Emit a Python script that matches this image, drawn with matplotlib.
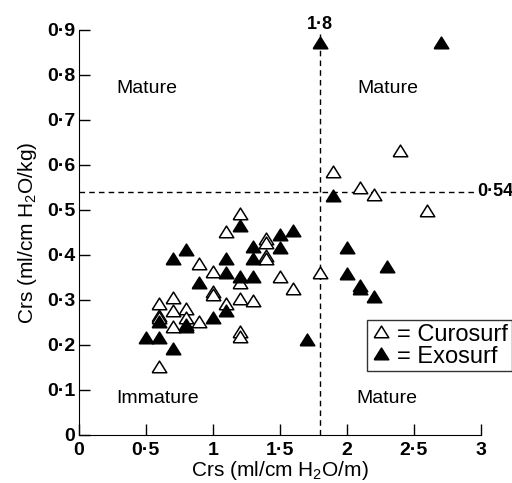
import matplotlib
matplotlib.use("Agg")
import matplotlib.pyplot as plt

plt.rcParams['font.family'] = ['Liberation Sans', 'DejaVu Sans']
plt.rcParams['mathtext.fontset'] = 'custom'
plt.rcParams['mathtext.rm'] = 'Liberation Sans'

# Curosurf (open triangles)
curo_x = [0.6, 0.6, 0.6, 0.6, 0.7, 0.7, 0.7, 0.8, 0.8, 0.9, 0.9, 1.0, 1.0, 1.0,
          1.1, 1.1, 1.2, 1.2, 1.2, 1.2, 1.2, 1.3, 1.4, 1.4, 1.4, 1.4, 1.5, 1.6,
          1.8, 1.9, 2.1, 2.2, 2.4, 2.6]
curo_y = [0.15, 0.29, 0.265, 0.26, 0.305, 0.275, 0.24, 0.28, 0.26, 0.25, 0.38, 0.363, 0.318, 0.31,
          0.45, 0.29, 0.49, 0.337, 0.302, 0.228, 0.217, 0.298, 0.435, 0.426, 0.398, 0.39, 0.352, 0.325,
          0.36, 0.585, 0.548, 0.533, 0.632, 0.498]

# Exosurf (filled triangles)
exo_x = [0.5, 0.6, 0.6, 0.7, 0.7, 0.8, 0.8, 0.8, 0.9, 1.0, 1.1, 1.1, 1.1, 1.2, 1.2,
         1.3, 1.3, 1.3, 1.5, 1.5, 1.6, 1.7, 1.8, 1.9, 2.0, 2.0, 2.1, 2.1, 2.2, 2.3, 2.7]
exo_y = [0.215, 0.215, 0.252, 0.19, 0.39, 0.41, 0.245, 0.24, 0.337, 0.26, 0.39, 0.36, 0.275, 0.465, 0.352,
         0.418, 0.39, 0.35, 0.444, 0.415, 0.454, 0.21, 0.872, 0.53, 0.415, 0.357, 0.33, 0.325, 0.306, 0.374, 0.872]

x_ticks = [0, 0.5, 1, 1.5, 2, 2.5, 3]
x_tick_labels = ["0", "0·5", "1", "1·5", "2", "2·5", "3"]
y_ticks = [0, 0.1, 0.2, 0.3, 0.4, 0.5, 0.6, 0.7, 0.8, 0.9]
y_tick_labels = ["0", "0·1", "0·2", "0·3", "0·4", "0·5", "0·6", "0·7", "0·8", "0·9"]

x_cut = 1.8
y_cut = 0.54

# a slightly flattened triangle, like the printed symbols
tri = [(-1, -0.72), (1, -0.72), (0, 0.88), (-1, -0.72)]

fig = plt.figure(figsize=(5.12, 4.83), dpi=100)
ax = fig.add_axes([0.154, 0.0994, 0.785, 0.8385])

# Cut-off lines
ax.plot([x_cut, x_cut], [0, 0.89], color="black", linestyle="--", linewidth=1, dashes=(4, 3))
ax.plot([0, 2.955], [y_cut, y_cut], color="black", linestyle="--", linewidth=1, dashes=(4, 3))

ax.plot(curo_x, curo_y, linestyle="none", marker=tri, markersize=10.5, markerfacecolor="white",
        markeredgecolor="black", markeredgewidth=1.1, label="= Curosurf", clip_on=False, zorder=3)
ax.plot(exo_x, exo_y, linestyle="none", marker=tri, markersize=10.5, markerfacecolor="black",
        markeredgecolor="black", markeredgewidth=1.1, label="= Exosurf", clip_on=False, zorder=3)

ax.set_xlim(0, 3)
ax.set_ylim(0, 0.9)
ax.spines["top"].set_visible(False)
ax.spines["right"].set_visible(False)
ax.set_xticks(x_ticks)
ax.set_xticklabels(x_tick_labels, fontsize=14, fontweight="bold")
ax.set_yticks(y_ticks)
ax.set_yticklabels(y_tick_labels, fontsize=14, fontweight="bold")
ax.tick_params(direction="in", length=8, width=1)
ax.tick_params(axis="x", pad=5)
ax.tick_params(axis="y", pad=2.5)

ax.set_xlabel(r"Crs (ml/cm H$_2$O/m)", fontsize=15, labelpad=0)
ax.set_ylabel(r"Crs (ml/cm H$_2$O/kg)", fontsize=15, labelpad=6)

# Quadrant labels
ax.text(0.28, 0.77, "Mature", fontsize=14, va="center", ha="left")
ax.text(2.08, 0.77, "Mature", fontsize=14, va="center", ha="left")
ax.text(0.28, 0.082, "Immature", fontsize=14, va="center", ha="left")
ax.text(2.07, 0.082, "Mature", fontsize=14, va="center", ha="left")
ax.text(x_cut, 0.913, "1·8", fontsize=13, fontweight="bold", ha="center", va="center", clip_on=False)
ax.text(2.975, y_cut, "0·54", fontsize=13, fontweight="bold", ha="left", va="center", clip_on=False)

lgd = ax.legend(loc="upper left", bbox_to_anchor=(0.716, 0.284), fontsize=17, frameon=True,
                fancybox=False, edgecolor="black", handletextpad=0.25, handlelength=0.9,
                borderpad=0.15, labelspacing=0.0, borderaxespad=0)
lgd.get_frame().set_linewidth(1)

fig.savefig("out.png", dpi=100)
